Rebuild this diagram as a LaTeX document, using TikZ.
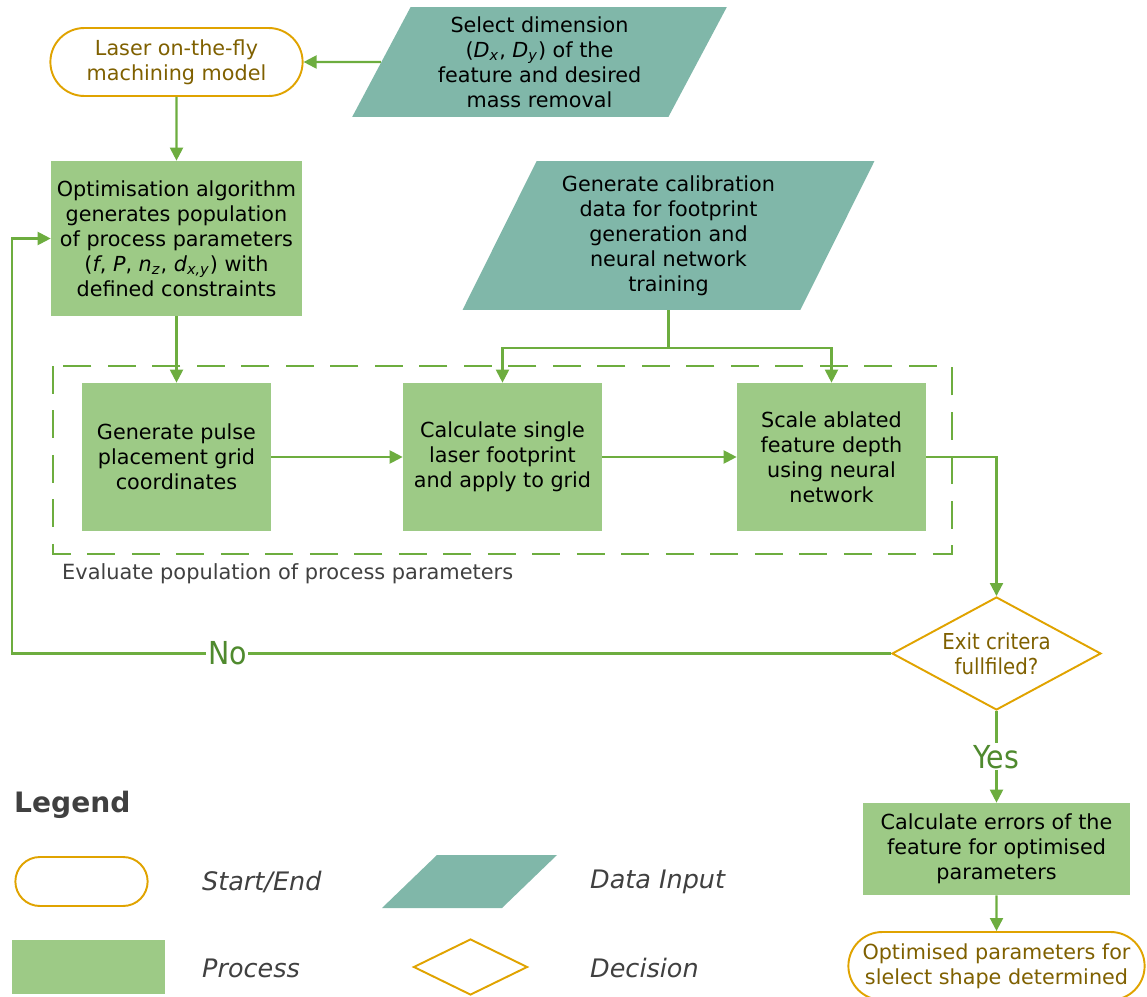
\documentclass[tikz,border=0pt]{standalone}
\usepackage{fontspec}
\setmainfont{DejaVu Sans}
\newfontfamily\narrowfont{DejaVu Sans Condensed}
\usetikzlibrary{shapes.geometric,shapes.misc,arrows.meta}
\definecolor{procgreen}{HTML}{9DCA86}
\definecolor{datateal}{HTML}{80B7A9}
\definecolor{linegreen}{HTML}{6DAD3F}
\definecolor{labelgreen}{HTML}{4F8A2E}
\definecolor{termorange}{HTML}{E0A300}
\definecolor{termbrown}{HTML}{7F6000}
\definecolor{leggray}{HTML}{404040}
\newcommand{\sub}[2]{\textit{#1}\textsubscript{\textit{#2}}}
\begin{document}
\begin{tikzpicture}[x=0.02cm, y=-0.02cm, font=\fontsize{11.8}{14.2}\selectfont,
  proc/.style={rectangle, fill=procgreen, align=center, inner sep=2pt},
  data/.style={trapezium, trapezium stretches=true, trapezium left angle=64,
    trapezium right angle=116, fill=datateal, align=center, inner sep=2pt},
  term/.style={rounded rectangle, draw=termorange, line width=1.1pt, text=termbrown,
    align=center, minimum height=1.36cm},
  decide/.style={diamond, draw=termorange, line width=1.1pt, text=termbrown,
    align=center, inner sep=0pt},
  arr/.style={draw=linegreen, line width=1.2pt, -{Triangle[length=0.26cm,width=0.26cm]}},
  lbl/.style={fill=white, text=labelgreen, inner sep=1pt,
    font=\narrowfont\fontsize{18}{20}\selectfont},
  legtxt/.style={anchor=west, text=leggray, font=\itshape\fontsize{14.5}{16}\selectfont}]
\useasboundingbox (0,0) rectangle (1147,997);

% main flow
\node[term, minimum width=5.28cm] (model) at (176.5,62) {Laser on-the-fly\\machining model};
\node[data, minimum width=7.5cm, minimum height=2.2cm] (dims) at (539.5,62)
  {Select dimension\\(\sub{D}{x}, \sub{D}{y}) of the\\feature and desired\\mass removal};
\node[proc, minimum width=5.02cm, minimum height=3.1cm] (optim) at (176.5,238.5)
  {Optimisation algorithm\\generates population\\of process parameters\\(\textit{f}, \textit{P}, \sub{n}{z}, \sub{d}{x,y}) with\\defined constraints};
\node[data, minimum width=8.26cm, minimum height=2.98cm] (calib) at (668.5,235.5)
  {Generate calibration\\data for footprint\\generation and\\neural network\\training};

% evaluation loop
\draw[linegreen, line width=1.4pt, dash pattern=on 0.56cm off 0.33cm] (53,366) rectangle (952,554);
\node[anchor=west, text=leggray, font=\fontsize{11.9}{13}\selectfont] (evaltxt) at (56,574)
  {Evaluate population of process parameters};
\node[proc, minimum width=3.78cm, minimum height=2.96cm] (grid) at (176.5,457)
  {Generate pulse\\placement grid\\coordinates};
\node[proc, minimum width=3.98cm, minimum height=2.96cm] (foot) at (502.5,457)
  {Calculate single\\laser footprint\\and apply to grid};
\node[proc, minimum width=3.78cm, minimum height=2.96cm] (depth) at (831.5,457)
  {Scale ablated\\feature depth\\using neural\\network};

\node[decide, aspect=1.85, minimum width=4.18cm, minimum height=2.26cm,
  font=\narrowfont\fontsize{12.5}{14.2}\selectfont] (exit) at (996.5,653.5) {Exit critera\\fullfiled?};
\node[proc, minimum width=5.34cm, minimum height=1.84cm] (errors) at (996.5,849)
  {Calculate errors of the\\feature for optimised\\parameters};
\node[term, minimum width=6.16cm] (result) at (996.5,966)
  {Optimised parameters for\\slelect shape determined};
\coordinate (back) at (12,0);

\draw[arr] (dims.west) -- (model.east);
\draw[arr] (model) -- (optim);
\draw[arr] (optim) -- (grid);
\draw[arr] (grid) -- (foot);
\draw[arr] (foot) -- (depth);
\draw[draw=linegreen, line width=1.2pt] (calib.center |- calib.south) -- ++(0,38) coordinate (split);
\draw[arr] (split) -| (foot.north);
\draw[arr] (split) -| (depth.north);
\draw[arr] (depth.east) -| (exit.north);
\draw[arr] (exit.west) -- node[lbl, pos=0.755] {No} (exit.west -| back) |- (optim.west);
\draw[arr] (exit) -- node[lbl] {Yes} (errors);
\draw[arr] (errors) -- (result);

% legend
\node[anchor=west, text=leggray, font=\bfseries\fontsize{16}{18}\selectfont] (legtitle) at (8,805) {Legend};
\node[term, minimum width=2.88cm, minimum height=0.98cm] (legterm) at (81.5,881.5) {};
\fill[datateal] (382,908) -- (437,855) -- (557,855) -- (502,908) -- cycle; % data input symbol
\node[proc, minimum width=3.06cm, minimum height=1.08cm] (legproc) at (88.5,967) {};
\node[decide, minimum width=2.28cm, minimum height=1.12cm] (legdec) at (470.5,967) {};
\node[legtxt] (legtermtxt) at (196,882) {Start/End};
\node[legtxt] (legdatatxt) at (584,882) {Data Input};
\node[legtxt] (legproctxt) at (196,968) {Process};
\node[legtxt] (legdectxt) at (584,968) {Decision};
\end{tikzpicture}
\end{document}
